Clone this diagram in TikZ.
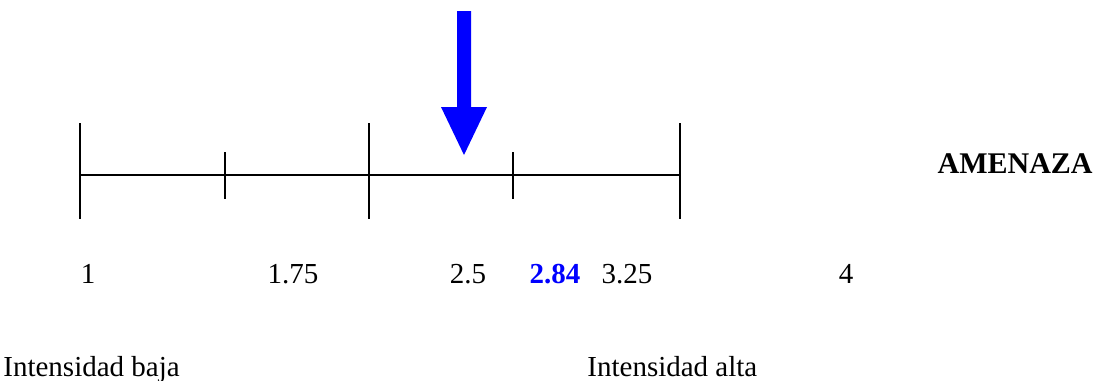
\documentclass[tikz,border=0pt]{standalone}
\usepackage{fontspec}
\setmainfont{Liberation Serif}
\usetikzlibrary{positioning}

\tikzset{
  escala/.style={line width=1pt, black},
  valor/.style={inner sep=0pt, anchor=base, font=\fontsize{14.5}{17}\selectfont},
  valorazul/.style={valor, text=blue, font=\fontsize{14.5}{17}\selectfont\bfseries},
}

\begin{document}
\begin{tikzpicture}[x=0.5pt, y=-0.5pt]
\useasboundingbox (0,0) rectangle (1102,380);
% escala de amenaza
\coordinate (p1) at (80,175);
\coordinate (p2) at (225,175);
\coordinate (p3) at (369,175);
\coordinate (p4) at (513,175);
\coordinate (p5) at (680,175);
\draw[escala] (p1) -- (p5);
\foreach \p in {p1,p3,p5}
  \draw[escala] ([yshift=26pt]\p) -- ([yshift=-22pt]\p);
\foreach \p in {p2,p4}
  \draw[escala] ([yshift=11.5pt]\p) -- ([yshift=-12pt]\p);
% flecha azul
\coordinate (punta) at (464,155);
\fill[blue] (punta) -- ++(-23,-48) -- ++(16,0) -- ++(0,-96) -- ++(14,0)
  -- ++(0,96) -- ++(16,0) -- cycle;
% valores
\node[valor] (v1) at (88,283) {1};
\node[valor] (v2) at (293,283) {1.75};
\node[valor] (v3) at (468,283) {2.5};
\node[valorazul] (v4) at (555,283) {2.84};
\node[valor] (v5) at (627,283) {3.25};
\node[valor] (v6) at (846,283) {4};
% textos
\node[valor, anchor=base west] (baja) at (3,376) {Intensidad baja};
\node[valor, anchor=base west] (alta) at (587,376) {Intensidad alta};
\node[valor, anchor=base east, font=\fontsize{15}{18}\selectfont\bfseries] (amenaza) at (1093,173) {AMENAZA};
\end{tikzpicture}
\end{document}
